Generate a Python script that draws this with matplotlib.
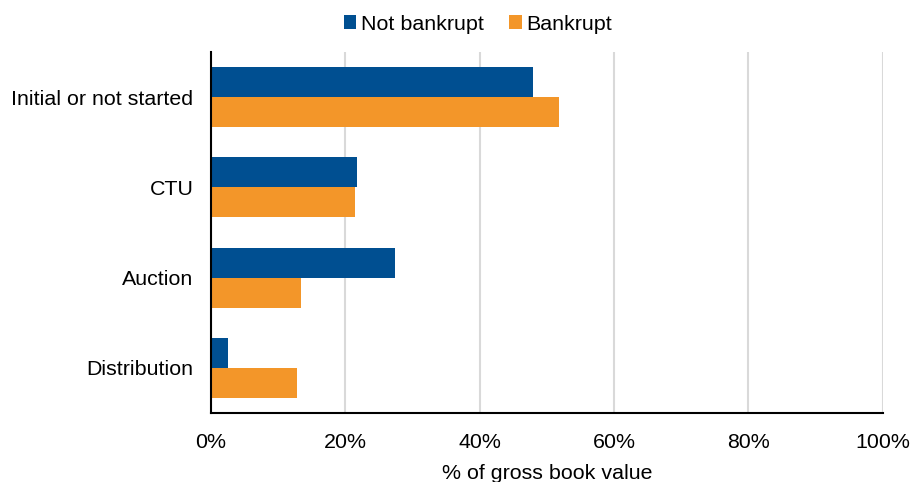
import numpy as np
import matplotlib.pyplot as plt
from matplotlib.ticker import PercentFormatter

plt.rcParams['font.family'] = ['Liberation Sans', 'DejaVu Sans']

categorias = ["Initial or not started", "CTU", "Auction", "Distribution"]
no_quiebra = [47.9, 21.8, 27.4, 2.6]
quiebra = [51.8, 21.5, 13.4, 12.9]
ticks_x = [0, 20, 40, 60, 80, 100]

azul = '#004F91'
naranja = '#F39629'

fig = plt.figure(figsize=(9.17, 4.82), dpi=100)
ax = fig.add_axes([0.2298, 0.143, 0.733, 0.749])

y = np.arange(len(categorias))
alto = 0.333
ax.barh(y - alto / 2, no_quiebra, height=alto, color=azul, label='Not bankrupt')
ax.barh(y + alto / 2, quiebra, height=alto, color=naranja, label='Bankrupt')

ax.set_xlim(0, 100)
ax.set_ylim(len(categorias) - 0.5, -0.5)
ax.set_xticks(ticks_x)
ax.xaxis.set_major_formatter(PercentFormatter(decimals=0))
ax.set_yticks(y)
ax.set_yticklabels(categorias)
ax.tick_params(axis='both', length=0, labelsize=15.4, colors='#000000')
ax.tick_params(axis='y', pad=12.5)
ax.tick_params(axis='x', pad=14)

ax.grid(axis='x', color='#D9D9D9', linewidth=1.5)
ax.set_axisbelow(True)
for lado in ['top', 'right']:
    ax.spines[lado].set_visible(False)
for lado in ['left', 'bottom']:
    ax.spines[lado].set_linewidth(1.5)
    ax.spines[lado].set_color('#000000')

ax.set_xlabel("% of gross book value", fontsize=15.4, labelpad=9)

fig.legend(loc='center', bbox_to_anchor=(0.521, 0.95), ncol=2, frameon=False,
           fontsize=15.4, handlelength=0.6, handleheight=0.6, handletextpad=0.2,
           columnspacing=1.2)

fig.savefig('out.png', dpi=100)
